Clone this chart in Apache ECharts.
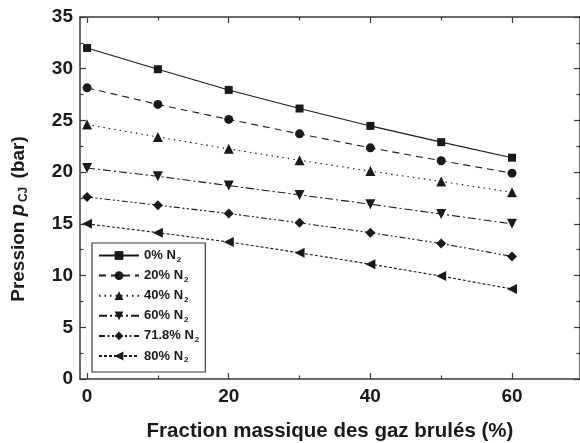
<!DOCTYPE html>
<html>
<head>
<meta charset="utf-8">
<script src="https://cdn.jsdelivr.net/npm/echarts@6/dist/echarts.min.js"></script>
<style>
  html, body { margin: 0; padding: 0; background: #fff; }
  #chart { width: 580px; height: 443px; }
</style>
</head>
<body>
<div id="chart"></div>
<script>
// Mass fraction of burnt gas (%)
const fractions = [0, 10, 20, 30, 40, 50, 60];

// Dilution labels (N2 content)
const dilutions = ['0%', '20%', '40%', '60%', '71.8%', '80%'];

// CJ pressure (bar) for each dilution
const p0 = [32.0, 29.95, 27.95, 26.15, 24.47, 22.9, 21.4];
const p20 = [28.15, 26.55, 25.1, 23.7, 22.35, 21.1, 19.9];
const p40 = [24.6, 23.4, 22.25, 21.15, 20.1, 19.1, 18.05];
const p60 = [20.4, 19.6, 18.7, 17.8, 16.9, 15.95, 15.0];
const p718 = [17.6, 16.8, 16.0, 15.1, 14.15, 13.1, 11.85];
const p80 = [15.0, 14.15, 13.25, 12.2, 11.1, 9.95, 8.7];

const yTicks = [0, 5, 10, 15, 20, 25, 30, 35];
const xMajor = [0, 20, 40, 60];
const xMinor = [10, 30, 50];

const values = [p0, p20, p40, p60, p718, p80];
const symbols = ['rect', 'circle', 'triangle', 'triangle', 'diamond', 'triangle'];
const symbolSizes = [8, 9, 10, 10, 10, 10];
const symbolRotations = [0, 0, 0, 180, 0, 90];
const dashes = ['solid', [7, 5], [1.5, 4], [8, 3, 2, 3], [6, 2.5, 2, 2.5, 2, 2.5], [3, 2]];

const ink = '#1a1a1a';
const axisColor = '#3a3a3a';
const FONT = 'Liberation Sans, Arial, sans-serif';

const series = dilutions.map((d, i) => ({
  name: d + ' N2',
  type: 'line',
  data: fractions.map((x, j) => [x, values[i][j]]),
  symbol: symbols[i],
  symbolSize: symbolSizes[i],
  symbolRotate: symbolRotations[i],
  lineStyle: { color: ink, width: 1.1, type: dashes[i] },
  itemStyle: { color: ink },
  emphasis: { disabled: true },
  animation: false,
  z: 5
}));

const xRange = { min: -1, max: 69.6 };
const yRange = { min: 0, max: 35 };

function xAxisDef(position, vals, len, showLine, showLabel, extra) {
  return Object.assign({
    type: 'value', position: position, min: xRange.min, max: xRange.max,
    axisLine: { show: showLine, onZero: false, lineStyle: { color: axisColor, width: 1.5 } },
    axisTick: { show: true, inside: true, length: len, customValues: vals, lineStyle: { color: axisColor, width: 1.2 } },
    axisLabel: showLabel ? { show: true, customValues: xMajor, color: ink, fontFamily: FONT, fontWeight: 'bold', fontSize: 19, margin: 8 } : { show: false },
    splitLine: { show: false }
  }, extra || {});
}

const option = {
  backgroundColor: '#fff',
  animation: false,
  grid: { left: 80, right: 0, top: 17, bottom: 64, outerBoundsMode: 'none', containLabel: false },
  xAxis: [
    xAxisDef('bottom', xMajor, 6, true, true, {
      name: 'Fraction massique des gaz brulés (%)',
      nameLocation: 'middle', nameGap: 42,
      nameTextStyle: { color: ink, fontFamily: FONT, fontWeight: 'bold', fontSize: 20.5 }
    }),
    xAxisDef('bottom', xMinor, 3.5, false, false),
    xAxisDef('top', xMajor, 6, true, false),
    xAxisDef('top', xMinor, 3.5, false, false)
  ],
  yAxis: [
    {
      type: 'value', position: 'left', min: yRange.min, max: yRange.max, interval: 5,
      axisLine: { show: true, onZero: false, lineStyle: { color: axisColor, width: 1.5 } },
      axisTick: { show: true, inside: true, length: 6, lineStyle: { color: axisColor, width: 1.2 } },
      minorTick: { show: true, splitNumber: 2, length: 3.5, lineStyle: { color: axisColor, width: 1.2 } },
      axisLabel: { color: ink, fontFamily: FONT, fontWeight: 'bold', fontSize: 19, margin: 7, customValues: yTicks },
      splitLine: { show: false },
      name: '{a|Pression }{i|p}{s|CJ}{a| (bar)}',
      nameLocation: 'middle', nameGap: 50, nameRotate: 90,
      nameTextStyle: {
        color: ink, fontFamily: FONT, fontWeight: 'bold', fontSize: 19,
        padding: [0, 42, 0, 0],
        rich: {
          a: { color: ink, fontFamily: FONT, fontWeight: 'bold', fontSize: 19 },
          i: { color: ink, fontFamily: FONT, fontWeight: 'bold', fontStyle: 'italic', fontSize: 20 },
          s: { color: ink, fontFamily: FONT, fontWeight: 'bold', fontSize: 12, padding: [11, 3, 0, 2] }
        }
      }
    },
    {
      type: 'value', position: 'right', min: yRange.min, max: yRange.max, interval: 5,
      axisLine: { show: true, onZero: false, lineStyle: { color: axisColor, width: 1.5 } },
      axisTick: { show: true, inside: true, length: 6, lineStyle: { color: axisColor, width: 1.2 } },
      minorTick: { show: true, splitNumber: 2, length: 3.5, lineStyle: { color: axisColor, width: 1.2 } },
      axisLabel: { show: false },
      splitLine: { show: false }
    }
  ],
  legend: {
    orient: 'vertical',
    left: 92, top: 243,
    padding: [6, 6, 8, 6],
    itemWidth: 40, itemHeight: 11, itemGap: 5.6,
    backgroundColor: '#fff',
    borderColor: axisColor, borderWidth: 1.2, borderRadius: 0,
    selectedMode: false,
    data: series.map(s => s.name),
    formatter: function (name) {
      return '{a|' + name.slice(0, -1) + '}{s|2}';
    },
    textStyle: {
      color: ink,
      rich: {
        a: { color: ink, fontFamily: FONT, fontWeight: 'bold', fontSize: 13 },
        s: { color: ink, fontFamily: FONT, fontWeight: 'bold', fontSize: 8, padding: [8, 0, 0, 1] }
      }
    }
  },
  series: series
};

const chart = echarts.init(document.getElementById('chart'), null, { renderer: 'canvas' });
chart.setOption(option);
</script>
</body>
</html>
